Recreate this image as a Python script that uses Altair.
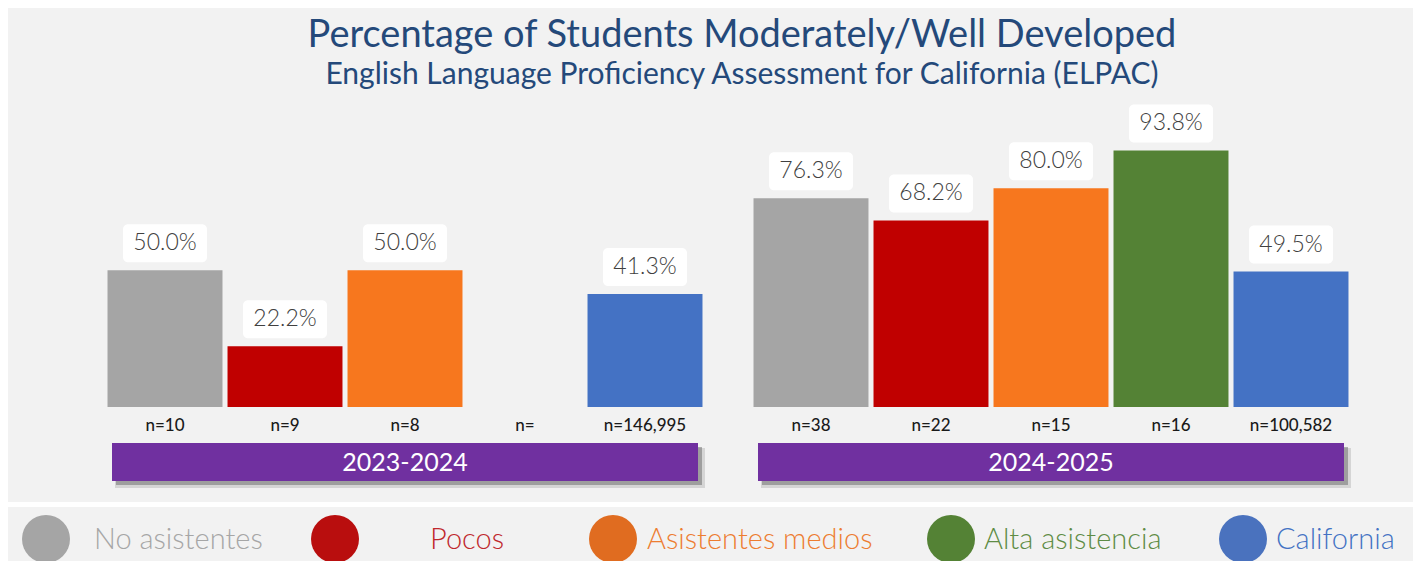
import altair as alt
import pandas as pd

# ---- data ----
years = ["2023-2024", "2024-2025"]
categories = ["No asistentes", "Pocos", "Asistentes medios", "Alta asistencia", "California"]
values_2023 = [50.0, 22.2, 50.0, None, 41.3]
values_2024 = [76.3, 68.2, 80.0, 93.8, 49.5]
n_2023 = ["n=10", "n=9", "n=8", "n=", "n=146,995"]
n_2024 = ["n=38", "n=22", "n=15", "n=16", "n=100,582"]

bar_colors = ["#a5a5a5", "#c00000", "#f7771e", "#548235", "#4472c4"]
dot_colors = ["#a5a5a5", "#b90e0e", "#e06c20", "#548235", "#4a72be"]
text_colors = ["#a6a6a6", "#c0282d", "#ed7d31", "#5e8c45", "#4472c4"]

title = "Percentage of Students Moderately/Well Developed"
subtitle = "English Language Proficiency Assessment for California (ELPAC)"

rows = []
for y, vals, ns in [(years[0], values_2023, n_2023), (years[1], values_2024, n_2024)]:
    for c, v, n in zip(categories, vals, ns):
        rows.append({"year": y, "category": c, "value": v, "n": n})
df = pd.DataFrame(rows)
year_df = pd.DataFrame({"year": years})

W, H = 1405, 553
FONT = "Lato"

one = alt.Data(values=[{}])

# ---- background ----
bg_top = alt.Chart(one).mark_rect(color="#f2f2f2").encode(
    x=alt.value(0), x2=alt.value(W), y=alt.value(0), y2=alt.value(494))
bg_leg = alt.Chart(one).mark_rect(color="#f2f2f2").encode(
    x=alt.value(0), x2=alt.value(W), y=alt.value(499), y2=alt.value(H))

# ---- titles ----
t1 = alt.Chart(one).mark_text(text=title, font=FONT, fontSize=38, color="#24497a",
                              align="center", baseline="alphabetic").encode(
    x=alt.value(734), y=alt.value(39))
t2 = alt.Chart(one).mark_text(text=subtitle, font=FONT, fontSize=30, color="#24497a",
                              align="center", baseline="alphabetic").encode(
    x=alt.value(734), y=alt.value(76))

# ---- main bars ----
xs = alt.X("year:N", scale=alt.Scale(domain=years, range=[97, 1343], paddingInner=0.0712, paddingOuter=0), axis=None)
xo = alt.XOffset("category:N", scale=alt.Scale(domain=categories, paddingInner=0.042, paddingOuter=0.021))
ys = alt.Y("value:Q", scale=alt.Scale(domain=[0, 100], range=[399, 125.5]), axis=None)

base = alt.Chart(df)
bars = base.mark_bar().encode(
    x=xs, xOffset=xo, y=ys,
    color=alt.Color("category:N", scale=alt.Scale(domain=categories, range=bar_colors), legend=None),
)
valid = base.transform_filter("isValid(datum.value)").transform_calculate(
    label="format(datum.value, '.1f') + '%'")
boxes = valid.mark_rect(width=84, height=38, cornerRadius=5, color="white", yOffset=-27).encode(
    x=xs, xOffset=xo, y=ys)
vtext = valid.mark_text(font=FONT, fontWeight=300, fontSize=23, color="#404040",
                        baseline="middle", yOffset=-27).encode(
    x=xs, xOffset=xo, y=ys, text="label:N")
ntext = base.mark_text(font=FONT, fontSize=17, fontWeight=500, color="#1a1a1a", baseline="middle").encode(
    x=xs, xOffset=xo, y=alt.value(418), text="n:N")

ybase = alt.Chart(year_df)
shadow2 = ybase.mark_bar(width=590, color="#7f7f7f", opacity=0.25, xOffset=5, yOffset=5, y2Offset=7).encode(
    x=xs, y=alt.value(435), y2=alt.value(473))
shadow = ybase.mark_bar(width=586, color="#5a5a5a", opacity=0.45, xOffset=4, yOffset=4, y2Offset=4).encode(
    x=xs, y=alt.value(435), y2=alt.value(473))
banner = ybase.mark_bar(width=586, color="#7030a0").encode(
    x=xs, y=alt.value(435), y2=alt.value(473))
btext = ybase.mark_text(font=FONT, fontSize=25, color="white", baseline="middle").encode(
    x=xs, y=alt.value(455), text="year:N")

main = alt.layer(bars, boxes, vtext, ntext, shadow2, shadow, banner, btext)

# ---- legend (layout positions are constants in code) ----
dot_x = [38, 327, 605, 943, 1235]
label_x = [86, 422, 639, 976, 1268]
legend_layers = []
for cat, dc, tc, dx, lx in zip(categories, dot_colors, text_colors, dot_x, label_x):
    d = alt.Data(values=[{"category": cat}])
    legend_layers.append(
        alt.Chart(d).mark_circle(size=2304, opacity=1, color=dc).encode(
            x=alt.value(dx), y=alt.value(531)))
    legend_layers.append(
        alt.Chart(d).mark_text(font=FONT, fontWeight=300, fontSize=29, align="left",
                               baseline="middle", color=tc).encode(
            x=alt.value(lx), y=alt.value(532), text="category:N"))

chart = alt.layer(bg_top, bg_leg, t1, t2, main, *legend_layers).properties(
    width=W, height=H, autosize=alt.AutoSizeParams(type="none"), padding=0, background="white"
).configure_view(stroke=None)

chart.save("out.html", embed_options={"renderer": "svg", "actions": False})
